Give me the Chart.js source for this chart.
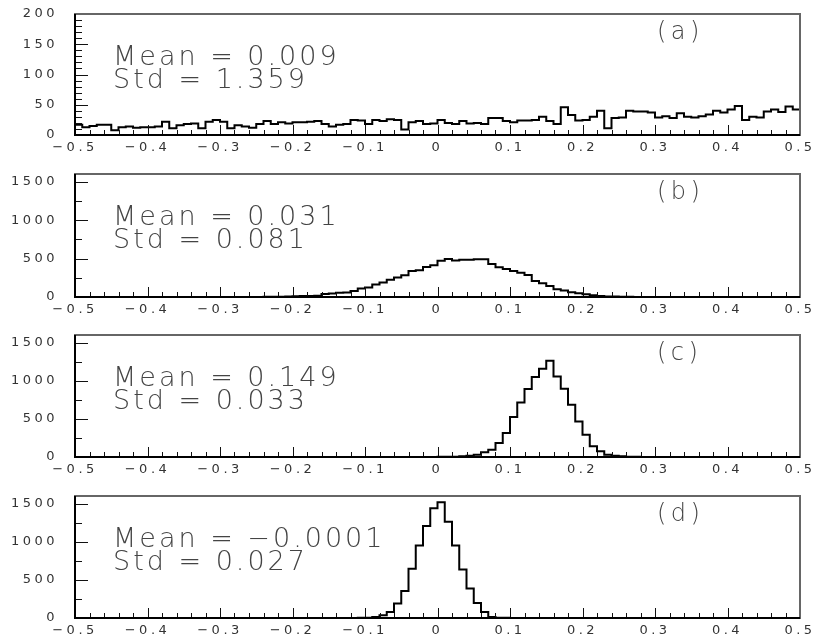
<!DOCTYPE html>
<html>
<head>
<meta charset="utf-8">
<script src="https://cdn.jsdelivr.net/npm/chart.js@4.4.0/dist/chart.umd.min.js"></script>
<style>
  body { margin: 0; background: #fff; width: 814px; height: 644px; overflow: hidden; position: relative; }
  canvas { position: absolute; left: 0; }
</style>
</head>
<body>
<canvas id="pa" width="814" height="161" style="top:0"></canvas>
<canvas id="pb" width="814" height="161" style="top:161px"></canvas>
<canvas id="pc" width="814" height="161" style="top:322px"></canvas>
<canvas id="pd" width="814" height="161" style="top:483px"></canvas>
<script>
// histogram binning: 100 bins from -0.5 to 0.5
const xMin = -0.5, xMax = 0.5, nBins = 100;
const xTicks = [-0.5, -0.4, -0.3, -0.2, -0.1, 0, 0.1, 0.2, 0.3, 0.4, 0.5];
const yTicksA = [0, 50, 100, 150, 200];
const yTicksBCD = [0, 500, 1000, 1500];

const countsA = [
  17, 13, 15, 17, 17, 8, 13, 14, 12, 13,
  13, 14, 22, 11, 16, 18, 19, 11, 22, 25,
  22, 11, 16, 14, 12, 18, 23, 18, 21, 19,
  21, 21, 22, 23, 18, 14, 17, 18, 25, 24,
  18, 25, 23, 26, 25, 9, 21, 23, 18, 19,
  25, 20, 18, 23, 19, 20, 18, 28, 28, 23,
  21, 24, 24, 25, 30, 23, 18, 46, 33, 24,
  25, 30, 40, 11, 28, 29, 40, 39, 39, 37,
  29, 31, 28, 36, 30, 29, 31, 34, 40, 37,
  42, 48, 25, 30, 29, 39, 42, 38, 47, 42
];
const countsB = [
  0, 0, 0, 0, 0, 0, 0, 0, 0, 0,
  0, 0, 0, 0, 0, 0, 0, 0, 0, 0,
  0, 0, 1, 1, 1, 1, 2, 3, 4, 6,
  9, 13, 14, 16, 40, 44, 55, 60, 78, 109,
  122, 161, 187, 226, 253, 283, 339, 348, 391, 413,
  473, 495, 475, 485, 485, 490, 490, 430, 387, 365,
  339, 317, 287, 209, 178, 143, 100, 83, 61, 48,
  35, 22, 13, 8, 5, 3, 2, 1, 0, 0,
  0, 0, 0, 0, 0, 0, 0, 0, 0, 0,
  0, 0, 0, 0, 0, 0, 0, 0, 0, 0
];
const countsC = [
  0, 0, 0, 0, 0, 0, 0, 0, 0, 0,
  0, 0, 0, 0, 0, 0, 0, 0, 0, 0,
  0, 0, 0, 0, 0, 0, 0, 0, 0, 0,
  0, 0, 0, 0, 0, 0, 0, 0, 0, 0,
  0, 0, 0, 0, 0, 0, 0, 0, 1, 1,
  2, 2, 4, 9, 17, 30, 61, 96, 183, 314,
  524, 716, 891, 1048, 1157, 1262, 1057, 895, 686, 467,
  293, 140, 74, 30, 17, 9, 4, 2, 1, 0,
  0, 0, 0, 0, 0, 0, 0, 0, 0, 0,
  0, 0, 0, 0, 0, 0, 0, 0, 0, 0
];
const countsD = [
  0, 0, 0, 0, 0, 0, 0, 0, 0, 0,
  0, 0, 0, 0, 0, 0, 0, 0, 0, 0,
  0, 0, 0, 0, 0, 0, 0, 0, 0, 0,
  0, 0, 0, 0, 0, 0, 0, 0, 1, 2,
  4, 13, 35, 79, 189, 355, 645, 952, 1206, 1439,
  1517, 1263, 952, 636, 386, 197, 79, 13, 4, 2,
  1, 0, 0, 0, 0, 0, 0, 0, 0, 0,
  0, 0, 0, 0, 0, 0, 0, 0, 0, 0,
  0, 0, 0, 0, 0, 0, 0, 0, 0, 0,
  0, 0, 0, 0, 0, 0, 0, 0, 0, 0
];

const panelTags = ['(a)', '(b)', '(c)', '(d)'];
const meanLabels = ['0.009', '0.031', '0.149', '\u22120.0001'];
const stdLabels = ['1.359', '0.081', '0.033', '0.027'];
const yMaxes = [200, 1600, 1600, 1600];
const yTickSets = [yTicksA, yTicksBCD, yTicksBCD, yTicksBCD];
const yMinorSteps = [10, 250, 250, 250];

const binWidth = (xMax - xMin) / nBins;

function fmtX(v) {
  const r = Math.round(v * 10) / 10;
  if (r === 0) return '0';
  return (r < 0 ? '\u2212' : '') + Math.abs(r);
}

// frame, inner tick marks and the text boxes
const histFrame = {
  id: 'histFrame',
  beforeDraw(chart) {
    chart.ctx.letterSpacing = '3.5px';
  },
  afterDraw(chart, args, o) {
    const { ctx, chartArea: a } = chart;
    const x = chart.scales.x, y = chart.scales.y;
    ctx.save();
    ctx.letterSpacing = '0px';

    ctx.strokeStyle = '#111';
    ctx.lineWidth = 1;
    const nx = Math.round((x.max - x.min) / 0.02);
    for (let k = 0; k <= nx; k++) {
      const px = Math.round(x.getPixelForValue(x.min + k * 0.02)) + 0.5;
      const len = k % 5 === 0 ? 10 : 5;
      ctx.beginPath();
      ctx.moveTo(px, a.bottom);
      ctx.lineTo(px, a.bottom - len);
      ctx.stroke();
    }
    const ny = Math.round(y.max / o.minor);
    for (let k = 0; k <= ny; k++) {
      const v = k * o.minor;
      const py = Math.round(y.getPixelForValue(v)) + 0.5;
      const len = o.majors.includes(v) ? 13 : 7;
      ctx.beginPath();
      ctx.moveTo(a.left, py);
      ctx.lineTo(a.left + len, py);
      ctx.stroke();
    }

    ctx.strokeStyle = '#666';
    ctx.lineWidth = 2;
    ctx.strokeRect(a.left, a.top, a.right - a.left, a.bottom - a.top);
    ctx.strokeStyle = '#000';
    ctx.beginPath();
    ctx.moveTo(a.left, a.top);
    ctx.lineTo(a.left, a.bottom);
    ctx.lineTo(a.right, a.bottom);
    ctx.stroke();

    ctx.fillStyle = '#444';
    ctx.textBaseline = 'alphabetic';
    ctx.textAlign = 'left';
    ctx.letterSpacing = '3px';
    ctx.font = '200 27px "DejaVu Sans"';
    ctx.fillText('Mean = ' + o.mean, a.left + 38, a.top + 51);
    ctx.fillText('Std = ' + o.std, a.left + 38, a.top + 74);
    ctx.letterSpacing = '4.5px';
    ctx.font = '200 24px "DejaVu Sans"';
    ctx.fillText(o.tag, 657, a.top + 25);
    ctx.restore();
  }
};

function makePanel(id, counts, idx, padTop, bottomSpace) {
  const pts = [{ x: xMin, y: 0 }];
  counts.forEach((c, i) => pts.push({ x: xMin + i * binWidth, y: c }));
  pts.push({ x: xMax, y: 0 });
  const yTicks = yTickSets[idx];

  new Chart(document.getElementById(id), {
    type: 'line',
    data: {
      datasets: [{
        data: pts,
        stepped: true,
        borderColor: '#000',
        borderWidth: 2,
        pointRadius: 0,
        fill: false
      }]
    },
    options: {
      responsive: false,
      animation: false,
      layout: { autoPadding: false, padding: { top: padTop, right: 14, left: 0, bottom: 0 } },
      plugins: {
        legend: { display: false },
        title: { display: false },
        tooltip: { enabled: false },
        histFrame: {
          tag: panelTags[idx], mean: meanLabels[idx], std: stdLabels[idx],
          majors: yTicks, minor: yMinorSteps[idx]
        }
      },
      scales: {
        x: {
          type: 'linear',
          min: xMin,
          max: xMax,
          grid: { display: false, drawTicks: false },
          border: { display: false },
          afterBuildTicks: s => { s.ticks = xTicks.map(v => ({ value: v })); },
          afterFit: s => { s.height = bottomSpace; s.paddingLeft = 0; s.paddingRight = 0; },
          ticks: {
            autoSkip: false,
            maxRotation: 0,
            padding: 5,
            color: '#333',
            font: { family: 'DejaVu Sans', size: 13 },
            callback: v => fmtX(v)
          }
        },
        y: {
          min: 0,
          max: yMaxes[idx],
          grid: { display: false, drawTicks: false },
          border: { display: false },
          afterBuildTicks: s => { s.ticks = yTicks.map(v => ({ value: v })); },
          afterFit: s => { s.width = 75; s.paddingTop = 0; s.paddingBottom = 0; },
          ticks: {
            autoSkip: false,
            padding: 17,
            color: '#333',
            font: { family: 'DejaVu Sans', size: 13 },
            callback: v => String(v)
          }
        }
      }
    },
    plugins: [histFrame]
  });
}

makePanel('pa', countsA, 0, 14, 26);
makePanel('pb', countsB, 1, 13, 25);
makePanel('pc', countsC, 2, 13, 26);
makePanel('pd', countsD, 3, 13, 26);
</script>
</body>
</html>
